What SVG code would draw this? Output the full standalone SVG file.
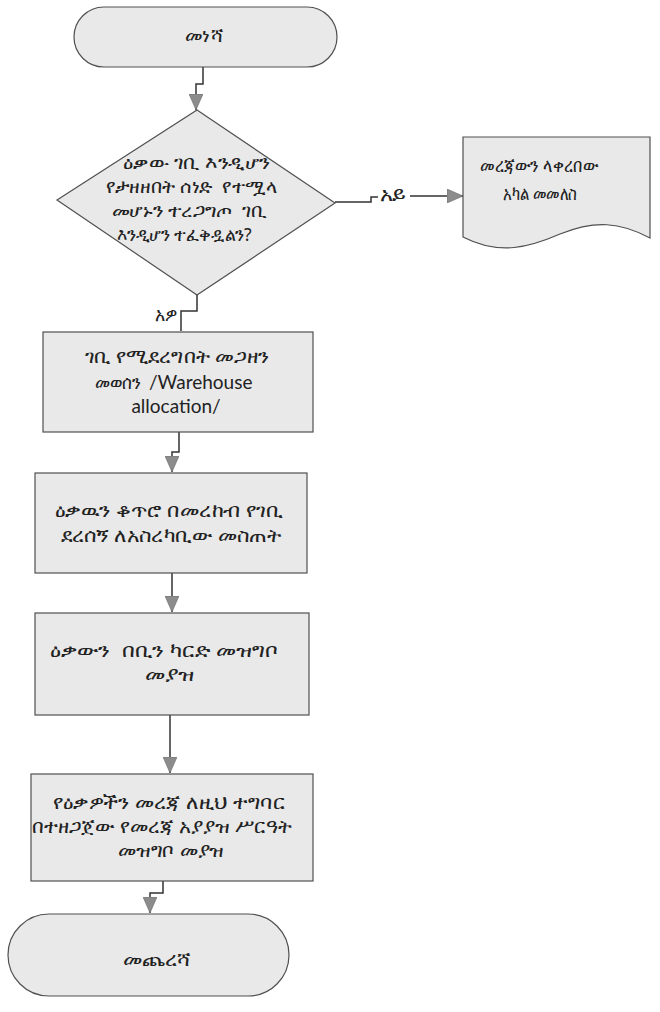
<svg xmlns="http://www.w3.org/2000/svg" width="660" height="1012" viewBox="0 0 660 1012">
<style>
.shape{fill:#e9e9e9;stroke:#505050;stroke-width:1.2}
.t{font-family:"Noto Sans","DejaVu Sans",sans-serif;font-size:19px;fill:#222;text-anchor:middle;white-space:pre}
.d{font-size:18px}
.lat{font-family:Lato,"Noto Sans",sans-serif;font-size:19px}
.c{fill:none;stroke:#333;stroke-width:1.5}
</style>
<defs>
<marker id="arr" markerUnits="userSpaceOnUse" markerWidth="16" markerHeight="14" viewBox="0 0 16 14" refX="16" refY="7" orient="auto">
<path d="M0,0 L16,7 L0,14 z" fill="#8c8c8c" stroke="#6a6a6a" stroke-width="0.6"/>
</marker>
</defs>
<rect width="660" height="1012" fill="#ffffff"/>

<g id="connectors">
<path class="c" d="M203,67 V84 H196 V110" marker-end="url(#arr)"/>
<path class="c" d="M335,202 H371 V197 H378"/>
<path class="c" d="M410,196 H463" marker-end="url(#arr)"/>
<path class="c" d="M197,295 V311 H181 V331"/>
<path class="c" d="M179,432 V452 H172 V472" marker-end="url(#arr)"/>
<path class="c" d="M172,573 V612" marker-end="url(#arr)"/>
<path class="c" d="M170,715 V773" marker-end="url(#arr)"/>
<path class="c" d="M163,881 V893 H150 V913" marker-end="url(#arr)"/>
<text class="t" x="393" y="201" textLength="27" lengthAdjust="spacingAndGlyphs">አይ</text>
<text class="t" x="166" y="321" textLength="22" lengthAdjust="spacingAndGlyphs">አዎ</text>
</g>

<g id="start">
<rect class="shape" x="74" y="7" width="263" height="60" rx="30" ry="30"/>
<text class="t" x="204" y="42" textLength="38" lengthAdjust="spacingAndGlyphs">መነሻ</text>
</g>

<g id="decision">
<polygon class="shape" points="197,110 335,203 197,295 57,200"/>
<text class="t d" x="196" y="169" textLength="146" lengthAdjust="spacingAndGlyphs">ዕቃው ገቢ እንዲሆን</text>
<text class="t d" x="191" y="193" textLength="171" lengthAdjust="spacingAndGlyphs">የታዘዘበት ሰነድ  የተሟላ</text>
<text class="t d" x="189" y="217" textLength="155" lengthAdjust="spacingAndGlyphs">መሆኑን ተረጋግጦ  ገቢ</text>
<text class="t d" x="184" y="241" textLength="135" lengthAdjust="spacingAndGlyphs">እንዲሆን ተፈቅዷልን?</text>
</g>

<g id="return">
<path class="shape" d="M463,137 H650 V238 C620,222 595,220 560,234 C530,247 500,256 463,237 Z"/>
<text class="t" x="539" y="172" textLength="118" lengthAdjust="spacingAndGlyphs">መረጃውን ላቀረበው</text>
<text class="t" x="540" y="200" textLength="74" lengthAdjust="spacingAndGlyphs">አካል መመለስ</text>
</g>

<g id="allocate">
<rect class="shape" x="43" y="332" width="270" height="100"/>
<text class="t" x="177" y="363" textLength="185" lengthAdjust="spacingAndGlyphs">ገቢ የሚደረግበት መጋዘን</text>
<text class="t" y="389" style="text-anchor:start"><tspan x="95" textLength="46" lengthAdjust="spacingAndGlyphs">መወሰን</tspan><tspan class="lat" x="149">/Warehouse</tspan></text>
<text class="t lat" x="176" y="413">allocation/</text>
</g>

<g id="receive">
<rect class="shape" x="35" y="473" width="272" height="100"/>
<text class="t" x="169" y="517" textLength="228" lengthAdjust="spacingAndGlyphs">ዕቃዉን ቆጥሮ በመረከብ የገቢ</text>
<text class="t" x="171" y="542" textLength="221" lengthAdjust="spacingAndGlyphs">ደረሰኝ ለአስረካቢው መስጠት</text>
</g>

<g id="bincard">
<rect class="shape" x="35" y="613" width="274" height="102"/>
<text class="t" x="164" y="657" textLength="228" lengthAdjust="spacingAndGlyphs">ዕቃውን  በቢን ካርድ መዝግቦ</text>
<text class="t" x="170" y="681" textLength="50" lengthAdjust="spacingAndGlyphs">መያዝ</text>
</g>

<g id="record">
<rect class="shape" x="31" y="774" width="282" height="107"/>
<text class="t" x="169" y="809" textLength="232" lengthAdjust="spacingAndGlyphs">የዕቃዎችን መረጃ ለዚህ ተግባር</text>
<text class="t" x="162" y="833" textLength="260" lengthAdjust="spacingAndGlyphs">በተዘጋጀው የመረጃ አያያዝ ሥርዓት</text>
<text class="t" x="171" y="857" textLength="107" lengthAdjust="spacingAndGlyphs">መዝግቦ መያዝ</text>
</g>

<g id="end">
<rect class="shape" x="8" y="914" width="281" height="82" rx="41" ry="41"/>
<text class="t" x="157" y="966" textLength="68" lengthAdjust="spacingAndGlyphs">መጨረሻ</text>
</g>
</svg>
